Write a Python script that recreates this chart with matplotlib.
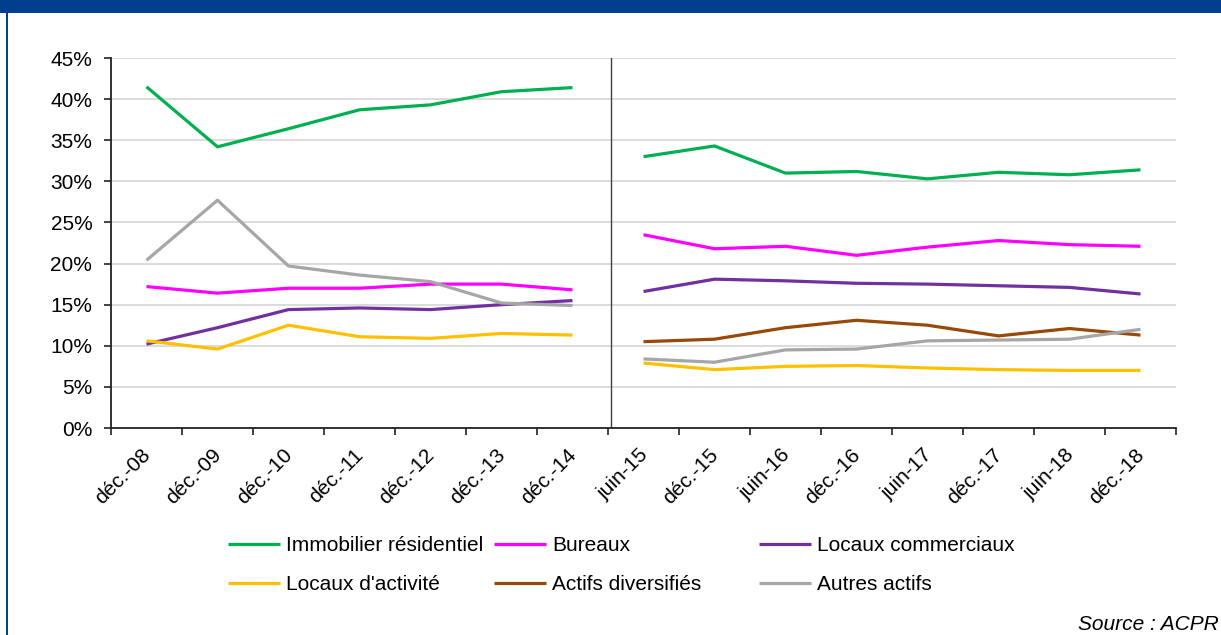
import matplotlib
matplotlib.use("Agg")
import matplotlib.pyplot as plt
from matplotlib.patches import Rectangle
from matplotlib.ticker import FixedLocator, FuncFormatter
from matplotlib.transforms import ScaledTranslation

plt.rcParams['font.family'] = ['Liberation Sans', 'DejaVu Sans']

# Périodes (annuelles jusqu'à 2014, semestrielles ensuite)
periodes = ["déc.-08", "déc.-09", "déc.-10", "déc.-11", "déc.-12", "déc.-13", "déc.-14",
            "juin-15", "déc.-15", "juin-16", "déc.-16", "juin-17", "déc.-17", "juin-18", "déc.-18"]

# Parts (en %) par type d'actif
residentiel = [41.5, 34.2, 36.4, 38.7, 39.3, 40.9, 41.4,
               33.0, 34.3, 31.0, 31.2, 30.3, 31.1, 30.8, 31.4]
bureaux = [17.2, 16.4, 17.0, 17.0, 17.5, 17.5, 16.8,
           23.5, 21.8, 22.1, 21.0, 22.0, 22.8, 22.3, 22.1]
commerciaux = [10.2, 12.2, 14.4, 14.6, 14.4, 15.0, 15.5,
               16.6, 18.1, 17.9, 17.6, 17.5, 17.3, 17.1, 16.3]
activite = [10.6, 9.6, 12.5, 11.1, 10.9, 11.5, 11.3,
            7.9, 7.1, 7.5, 7.6, 7.3, 7.1, 7.0, 7.0]
diversifies = [None, None, None, None, None, None, None,
               10.5, 10.8, 12.2, 13.1, 12.5, 11.2, 12.1, 11.3]
autres = [20.4, 27.7, 19.7, 18.6, 17.8, 15.2, 14.9,
          8.4, 8.0, 9.5, 9.6, 10.6, 10.7, 10.8, 12.0]

series = [
    ("Immobilier résidentiel", residentiel, "#00B050"),
    ("Bureaux", bureaux, "#FF00FF"),
    ("Locaux commerciaux", commerciaux, "#7030A0"),
    ("Locaux d'activité", activite, "#FFC000"),
    ("Actifs diversifiés", diversifies, "#984807"),
    ("Autres actifs", autres, "#A6A6A6"),
]

n_annuel = 7  # nombre de points avant le changement de périodicité
FS = 15

W, H = 1221, 635
fig = plt.figure(figsize=(W / 100, H / 100), dpi=100)
ax = fig.add_axes([111 / W, 1 - 428 / H, (1176 - 111) / W, (428 - 58) / H])

x = list(range(len(periodes)))
handles = {}
for name, vals, color in series:
    # deux segments distincts : avant et après le changement de périodicité
    for lo, hi in ((0, n_annuel), (n_annuel, len(periodes))):
        xs = [x[i] for i in range(lo, hi) if vals[i] is not None]
        ys = [vals[i] for i in range(lo, hi) if vals[i] is not None]
        if xs:
            ln, = ax.plot(xs, ys, color=color, lw=2.3, solid_capstyle='butt',
                          solid_joinstyle='round', zorder=3)
            handles[name] = ln

# séparation entre les deux périodicités
ax.axvline(n_annuel - 0.46, color="#404040", lw=1.0, zorder=2)

ax.set_xlim(-0.5, len(periodes) - 0.5)
ax.set_ylim(0, 45)
ax.set_yticks(range(0, 46, 5))
ax.yaxis.set_major_formatter(FuncFormatter(lambda v, p: f"{v:.0f}%"))
ax.yaxis.grid(True, color="#D9D9D9", lw=1.3)
ax.set_axisbelow(True)

ax.xaxis.set_major_locator(FixedLocator([i - 0.5 for i in range(len(periodes) + 1)]))
ax.xaxis.set_minor_locator(FixedLocator(x))
ax.set_xticklabels([], minor=False)
ax.set_xticklabels(periodes, minor=True, rotation=45, ha='right', va='top')
ax.tick_params(axis='x', which='major', direction='out', length=5, width=1.2, color="#222222")
ax.tick_params(axis='x', which='minor', length=0, pad=12.5, labelsize=FS)
ax.tick_params(axis='y', direction='out', length=5, width=1.2, color="#222222",
               pad=8.5, labelsize=FS)
shift = ScaledTranslation(8 / 100, 0, fig.dpi_scale_trans)
for lbl in ax.get_xticklabels(minor=True):
    lbl.set_transform(lbl.get_transform() + shift)

for side in ('top', 'right'):
    ax.spines[side].set_visible(False)
for side in ('left', 'bottom'):
    ax.spines[side].set_color("#222222")
    ax.spines[side].set_linewidth(1.3)

# légende en trois colonnes
cols = [("Immobilier résidentiel", "Locaux d'activité"),
        ("Bureaux", "Actifs diversifiés"),
        ("Locaux commerciaux", "Autres actifs")]
col_x = [228, 494, 759]
for names, cx in zip(cols, col_x):
    leg = fig.legend([handles[n] for n in names], list(names),
                     loc='center left', bbox_to_anchor=(cx / W, 1 - 565 / H),
                     frameon=False, fontsize=FS, handlelength=2.5,
                     handletextpad=0.3, borderpad=0, borderaxespad=0,
                     labelspacing=0.95)
    for lh in leg.get_lines():
        lh.set_linewidth(2.3)

fig.text(1219 / W, 1 - 624 / H, "Source : ACPR", ha='right', va='center',
         fontsize=FS, style='italic')

# bandeau et filet bleus
fig.add_artist(Rectangle((0, 1 - 12.5 / H), 1, 12.5 / H, transform=fig.transFigure,
                         facecolor="#023E8F", edgecolor='none'))
fig.add_artist(Rectangle((5.8 / W, 0), 2.4 / W, 1, transform=fig.transFigure,
                         facecolor="#023E8F", edgecolor='none'))

fig.savefig("out.png", dpi=100)
